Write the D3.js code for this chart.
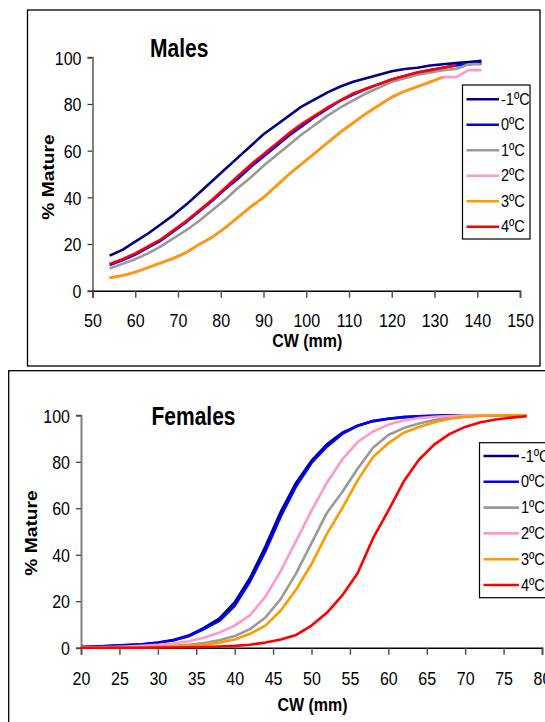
<!DOCTYPE html>
<html>
<head>
<meta charset="utf-8">
<script src="https://cdn.jsdelivr.net/npm/d3@7"></script>
<style>
  body { margin: 0; background: #fff; }
  svg { display: block; font-family: "Liberation Sans", Arial, sans-serif; }
</style>
</head>
<body>
<svg id="chart"></svg>
<script>
// series labels and colours (shared by both panels)
let seriesNames = ['-1ºC', '0ºC', '1ºC', '2ºC', '3ºC', '4ºC']
let seriesColors = ['#000080', '#0000ff', '#999999', '#ff99cc', '#ff9900', '#ff0000']

// males: carapace width (mm) and % mature per temperature
let maleCW = [54, 57, 60, 63, 66, 69, 72, 75, 78, 81, 84, 87, 90, 93, 96, 99, 102, 105, 108, 111, 114, 117, 120, 123, 126, 129, 132, 135, 138, 141]
let maleM1 = [15, 17.5, 21, 24.5, 28.5, 32.5, 37, 42, 47, 52, 57, 62, 67, 71, 75, 79, 82, 85, 87.5, 89.5, 91, 92.5, 94, 95, 95.5, 96.5, 97, 97.5, 98, 98.5]
let maleP0 = [11, 13, 15.5, 18.5, 21.5, 25.5, 29.5, 34, 38.5, 43.5, 48, 53, 57.5, 62, 66.5, 70.5, 74.5, 78, 81.5, 84, 86.5, 88.5, 90.5, 92, 93.5, 94.5, 95.5, 96.5, 97, 97.5]
let maleP1 = [9.5, 11.5, 13.5, 16, 19, 22.5, 26, 30, 34.5, 39, 44, 48.5, 53.5, 58, 62.5, 67, 71, 75, 78.5, 81.5, 84.5, 87, 89.5, 91, 92.5, 93.5, 94.5, 95, 97, 97]
let maleP2 = [5.5, 6.5, 7.8, 9.8, 11.8, 13.8, 16.3, 19.8, 22.8, 26.8, 31.3, 35.8, 39.8, 44.8, 49.8, 54.3, 58.8, 63.3, 67.8, 71.8, 75.8, 79.3, 82.8, 85.3, 87.3, 89.3, 91.5, 91.5, 94.5, 94.5]
let maleP3 = [5.5, 6.5, 8, 10, 12, 14, 16.5, 20, 23, 27, 31.5, 36, 40, 45, 50, 54.5, 59, 63.5, 68, 72, 76, 79.5, 83, 85.5, 87.5, 89.5, 91.5, null, null, null]
let maleP4 = [11.5, 13.5, 16, 19, 22, 26, 30, 34.5, 39, 44, 49, 54, 58.5, 63, 67.5, 71.5, 75, 78.5, 81.5, 84.5, 86.5, 88.5, 90.5, 92, 93.5, 94.5, 95.5, 96.5, null, null]
let maleTicksX = [50, 60, 70, 80, 90, 100, 110, 120, 130, 140, 150]

// females
let femaleCW = [20, 22, 24, 26, 28, 30, 32, 34, 36, 38, 40, 42, 44, 46, 48, 50, 52, 54, 56, 58, 60, 62, 64, 66, 68, 70, 72, 74, 76, 78]
let femaleM1 = [0.3, 0.5, 0.8, 1.1, 1.5, 2.2, 3.3, 5.2, 8.5, 12.5, 19.5, 30, 43.5, 58.5, 71, 80.5, 87.5, 92.5, 95.5, 97.5, 98.5, 99.2, 99.6, 99.8, 100, 100, 100, 100, 100, 100]
let femaleP0 = [0.3, 0.5, 0.8, 1.1, 1.5, 2.1, 3.1, 4.9, 8, 11.5, 18, 28.5, 41.5, 56.5, 69.5, 79.5, 86.5, 92, 95.5, 97.5, 98.5, 99.2, 99.6, 99.8, 100, 100, 100, 100, 100, 100]
let femaleP1 = [0, 0.1, 0.1, 0.2, 0.3, 0.5, 0.8, 1.2, 2, 3.2, 5, 8, 13, 21, 32, 45, 58, 67, 77, 86, 91.5, 94.5, 96.5, 98, 99, 99.5, 100, 100, 100, 100]
let femaleP2 = [0.1, 0.2, 0.3, 0.5, 0.8, 1.2, 1.8, 2.8, 4.3, 6.5, 9.5, 14, 22, 33, 46, 59, 71, 81, 88.5, 93, 96, 97.8, 98.8, 99.4, 99.7, 100, 100, 100, 100, 100]
let femaleP3 = [0, 0, 0.1, 0.1, 0.2, 0.3, 0.5, 0.8, 1.3, 2.2, 3.5, 6, 9.5, 16, 25, 36, 49, 60, 72, 82, 88, 92.5, 95, 97, 98.5, 99.3, 99.7, 100, 100, 100]
let femaleP4 = [0, 0, 0, 0, 0, 0.1, 0.1, 0.2, 0.3, 0.5, 0.8, 1.3, 2.2, 3.5, 5.5, 9.5, 15, 22.5, 32, 47, 59, 71.5, 81, 87.5, 92, 95, 97, 98.2, 99, 99.6]
let femaleTicksX = [20, 25, 30, 35, 40, 45, 50, 55, 60, 65, 70, 75, 80]

let ticksY = [0, 20, 40, 60, 80, 100]

let width = 545
let height = 722
// text in the source picture is a little taller than it is wide
let stretch = 1.2

let svg = d3.select('#chart')
svg.attr('width', width).attr('height', height)

// put a text at (x, baseline) with the vertical stretch
let addText = (parent, x, y, str, size, bold, anchor) => {
    return parent.append('text')
        .attr('transform', 'translate(' + x + ',' + y + ') scale(1,' + stretch + ')')
        .attr('font-size', size)
        .attr('font-weight', bold ? 'bold' : 'normal')
        .attr('text-anchor', anchor || 'start')
        .attr('fill', '#000')
        .text(str)
}

let drawPanel = (p) => {
    // outer frame
    svg.append('rect')
        .attr('x', p.frame[0]).attr('y', p.frame[1])
        .attr('width', p.frame[2]).attr('height', p.frame[3])
        .attr('fill', 'none').attr('stroke', '#000').attr('stroke-width', 1.3)

    let xScale = d3.scaleLinear().domain(p.xDomain).range([p.left, p.right])
    let yScale = d3.scaleLinear().domain([0, 100]).range([p.bottom, p.top])

    // y axis
    let yAxis = d3.axisLeft(yScale).tickValues(ticksY).tickSize(5).tickPadding(6)
    let gy = svg.append('g')
        .attr('transform', 'translate(' + p.left + ',0)')
        .call(yAxis)
    gy.select('.domain').attr('stroke', '#808080').attr('stroke-width', 2)
    gy.selectAll('.tick line').attr('stroke', '#333').attr('stroke-width', 1.2)
    gy.selectAll('.tick text')
        .attr('font-size', 16).attr('fill', '#000')
        .attr('font-family', '"Liberation Sans", Arial, sans-serif')
        .attr('dy', null).attr('y', 0).attr('x', null)
        .attr('transform', 'translate(-11,' + (5.6 * stretch) + ') scale(1,' + stretch + ')')

    // x axis
    let xAxis = d3.axisBottom(xScale).tickValues(p.ticksX).tickSize(7).tickPadding(10)
    let gx = svg.append('g')
        .attr('transform', 'translate(0,' + p.bottom + ')')
        .call(xAxis)
    gx.select('.domain').attr('stroke', '#000').attr('stroke-width', 1.5)
    gx.selectAll('.tick line').attr('stroke', '#555').attr('stroke-width', 1.5)
    gx.selectAll('.tick text')
        .attr('font-size', 16).attr('fill', '#000')
        .attr('font-family', '"Liberation Sans", Arial, sans-serif')
        .attr('dy', null).attr('y', 0)
        .attr('transform', 'translate(0,' + p.tickBase + ') scale(1,' + stretch + ')')

    // series lines
    let line = d3.line()
        .defined((d) => d[1] != null)
        .x((d) => xScale(d[0]))
        .y((d) => yScale(d[1]))

    p.series.forEach((vals, i) => {
        let pts = p.cw.map((c, j) => [c, vals[j]])
        svg.append('path')
            .datum(pts)
            .attr('d', line)
            .attr('fill', 'none')
            .attr('stroke', seriesColors[i])
            .attr('stroke-width', 2.6)
            .attr('stroke-linejoin', 'round')
    })

    // title
    addText(svg, p.titleX, p.titleY, p.title, 21, true)

    // axis labels
    addText(svg, (p.left + p.right) / 2 + 1, p.xLabelY, 'CW (mm)', 16, true, 'middle')

    svg.append('text')
        .attr('transform', 'translate(' + p.yLabelX + ',' + p.yLabelMid + ') rotate(-90) scale(' + stretch + ',1)')
        .attr('text-anchor', 'middle')
        .attr('font-size', 16).attr('font-weight', 'bold')
        .text('% Mature')

    // legend
    let lg = svg.append('g').attr('transform', 'translate(' + p.legend[0] + ',' + p.legend[1] + ')')
    lg.append('rect')
        .attr('width', p.legend[2]).attr('height', p.legend[3])
        .attr('fill', '#fff').attr('stroke', '#000').attr('stroke-width', 1.2)
    seriesNames.forEach((name, i) => {
        let yy = p.legendFirst + i * p.legendStep
        lg.append('line')
            .attr('x1', 4).attr('x2', 4 + p.legendLine)
            .attr('y1', yy).attr('y2', yy)
            .attr('stroke', seriesColors[i]).attr('stroke-width', 2.6)
        addText(lg, 6 + p.legendLine, yy + 5.5, name, 14.5, false)
    })
}

drawPanel({
    frame: [27.5, 10, 512.5, 356],
    left: 92.5, right: 520, top: 57.3, bottom: 290.7,
    xDomain: [50, 150], ticksX: maleTicksX, tickBase: 36.5,
    cw: maleCW, series: [maleM1, maleP0, maleP1, maleP2, maleP3, maleP4],
    title: 'Males', titleX: 150, titleY: 56.5,
    xLabelY: 347, yLabelX: 54, yLabelMid: 177,
    legend: [462.5, 85, 67.5, 154], legendFirst: 14.3, legendStep: 25.5, legendLine: 32.5
})

drawPanel({
    frame: [8.7, 370.7, 560, 380],
    left: 81, right: 542, top: 415.3, bottom: 647.7,
    xDomain: [20, 80], ticksX: femaleTicksX, tickBase: 37.5,
    cw: femaleCW, series: [femaleM1, femaleP0, femaleP1, femaleP2, femaleP3, femaleP4],
    title: 'Females', titleX: 151.5, titleY: 425,
    xLabelY: 711, yLabelX: 37, yLabelMid: 533,
    legend: [479.5, 442.7, 100, 155], legendFirst: 13.3, legendStep: 25.8, legendLine: 35.4
})
</script>
</body>
</html>
